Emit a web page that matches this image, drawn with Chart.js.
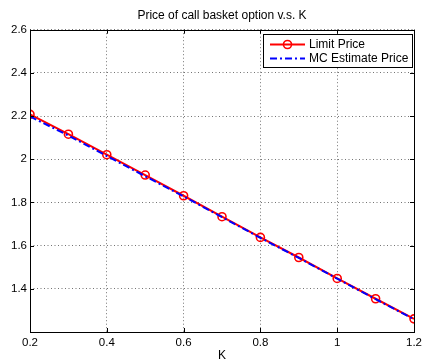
<!DOCTYPE html>
<html>
<head>
<meta charset="utf-8">
<script src="https://cdn.jsdelivr.net/npm/chart.js@4/dist/chart.umd.min.js"></script>
<style>
  html, body { margin: 0; padding: 0; background: #fff; }
  canvas { display: block; }
</style>
</head>
<body>
<canvas id="basket" width="426" height="362"></canvas>
<script>
// strikes K
const strikes = [0.2, 0.3, 0.4, 0.5, 0.6, 0.7, 0.8, 0.9, 1.0, 1.1, 1.2];
// limit price (red, circles)
const limitPrice = [2.208, 2.116, 2.021, 1.927, 1.831, 1.734, 1.638, 1.545, 1.448, 1.354, 1.261];
// Monte Carlo estimate (blue dash-dot)
const mcPrice = [2.198, 2.110, 2.015, 1.921, 1.828, 1.732, 1.636, 1.543, 1.447, 1.352, 1.259];
const xTicks = [0.2, 0.4, 0.6, 0.8, 1.0, 1.2];
const yTicks = [1.4, 1.6, 1.8, 2.0, 2.2, 2.4, 2.6];

const FONT = "'Liberation Sans', Arial, Helvetica, sans-serif";
Chart.defaults.font.family = FONT;
Chart.defaults.color = "#000";

const fmt = v => String(Number(v.toFixed(1)));

// box, inward ticks and the legend, matlab style
const matlabFrame = {
  id: "matlabFrame",
  afterDraw(chart) {
    const { ctx, chartArea: a, scales } = chart;
    ctx.save();
    ctx.strokeStyle = "#000";
    ctx.lineWidth = 1;
    ctx.beginPath();
    xTicks.forEach(v => {
      const x = Math.round(scales.x.getPixelForValue(v)) + 0.5;
      ctx.moveTo(x, a.bottom); ctx.lineTo(x, a.bottom - 4);
      ctx.moveTo(x, a.top); ctx.lineTo(x, a.top + 4);
    });
    yTicks.forEach(v => {
      const y = Math.round(scales.y.getPixelForValue(v)) + 0.5;
      ctx.moveTo(a.left, y); ctx.lineTo(a.left + 4, y);
      ctx.moveTo(a.right, y); ctx.lineTo(a.right - 4, y);
    });
    ctx.stroke();
    ctx.strokeRect(Math.round(a.left) + 0.5, Math.round(a.top) + 0.5,
      Math.round(a.right - a.left), Math.round(a.bottom - a.top));

    // legend
    const lx = 263, ly = 34, lw = 149, lh = 33;
    ctx.fillStyle = "#fff";
    ctx.fillRect(lx, ly, lw, lh);
    ctx.strokeRect(lx + 0.5, ly + 0.5, lw, lh);
    ctx.font = "12px " + FONT;
    ctx.textBaseline = "middle";
    ctx.textAlign = "left";
    chart.data.datasets.forEach((ds, i) => {
      const y = ly + 10.5 + i * 14;
      ctx.save();
      ctx.strokeStyle = ds.borderColor;
      ctx.lineWidth = ds.borderWidth;
      ctx.setLineDash(ds.borderDash || []);
      ctx.beginPath();
      ctx.moveTo(270, y); ctx.lineTo(305, y);
      ctx.stroke();
      ctx.setLineDash([]);
      if (ds.pointRadius) {
        ctx.lineWidth = ds.pointBorderWidth;
        ctx.beginPath();
        ctx.arc(287.5, y, ds.pointRadius, 0, Math.PI * 2);
        ctx.stroke();
      }
      ctx.restore();
      ctx.fillStyle = "#000";
      ctx.fillText(ds.label, 309, y);
    });
    ctx.restore();
  }
};

new Chart(document.getElementById("basket"), {
  type: "line",
  data: {
    datasets: [{
      label: "Limit Price",
      data: strikes.map((k, i) => ({ x: k, y: limitPrice[i] })),
      borderColor: "#ff0000",
      borderWidth: 2,
      pointRadius: 4,
      pointBorderWidth: 1.6,
      pointBorderColor: "#ff0000",
      pointBackgroundColor: "rgba(0,0,0,0)",
      tension: 0,
      order: 2
    }, {
      label: "MC Estimate Price",
      data: strikes.map((k, i) => ({ x: k, y: mcPrice[i] })),
      borderColor: "#0000ff",
      borderWidth: 2,
      borderDash: [7, 3, 2, 3],
      pointRadius: 0,
      tension: 0,
      order: 1
    }]
  },
  options: {
    responsive: false,
    animation: false,
    devicePixelRatio: 1,
    layout: { padding: { left: 0, right: 8, top: 0, bottom: 0 } },
    plugins: {
      legend: { display: false },
      tooltip: { enabled: false },
      title: {
        display: true,
        fullSize: false,
        text: "Price of call basket option v.s. K",
        color: "#000",
        font: { size: 12, weight: "normal", lineHeight: 1.2 },
        padding: { top: 8, bottom: 7.3 }
      }
    },
    scales: {
      x: {
        type: "linear",
        min: 0.2,
        max: 1.2,
        afterFit: s => { s.height = 30; },
        afterBuildTicks: s => { s.ticks = xTicks.map(v => ({ value: v })); },
        ticks: { padding: 4, font: { size: 11.5 }, color: "#000", callback: fmt, maxRotation: 0 },
        grid: { color: "rgba(0,0,0,0.55)", drawTicks: false, lineWidth: 1 },
        border: { display: false, dash: [1, 2.5] },
        title: { display: true, text: "K", color: "#000", font: { size: 12, lineHeight: 1 }, padding: { top: 0, bottom: 0 } }
      },
      y: {
        type: "linear",
        min: 1.2,
        max: 2.6,
        afterFit: s => { s.width = 30; },
        afterBuildTicks: s => { s.ticks = yTicks.map(v => ({ value: v })); },
        ticks: { padding: 3, font: { size: 11.5 }, color: "#000", callback: fmt },
        grid: { color: "rgba(0,0,0,0.55)", drawTicks: false, lineWidth: 1 },
        border: { display: false, dash: [1, 2.5] }
      }
    }
  },
  plugins: [matlabFrame]
});
</script>
</body>
</html>
